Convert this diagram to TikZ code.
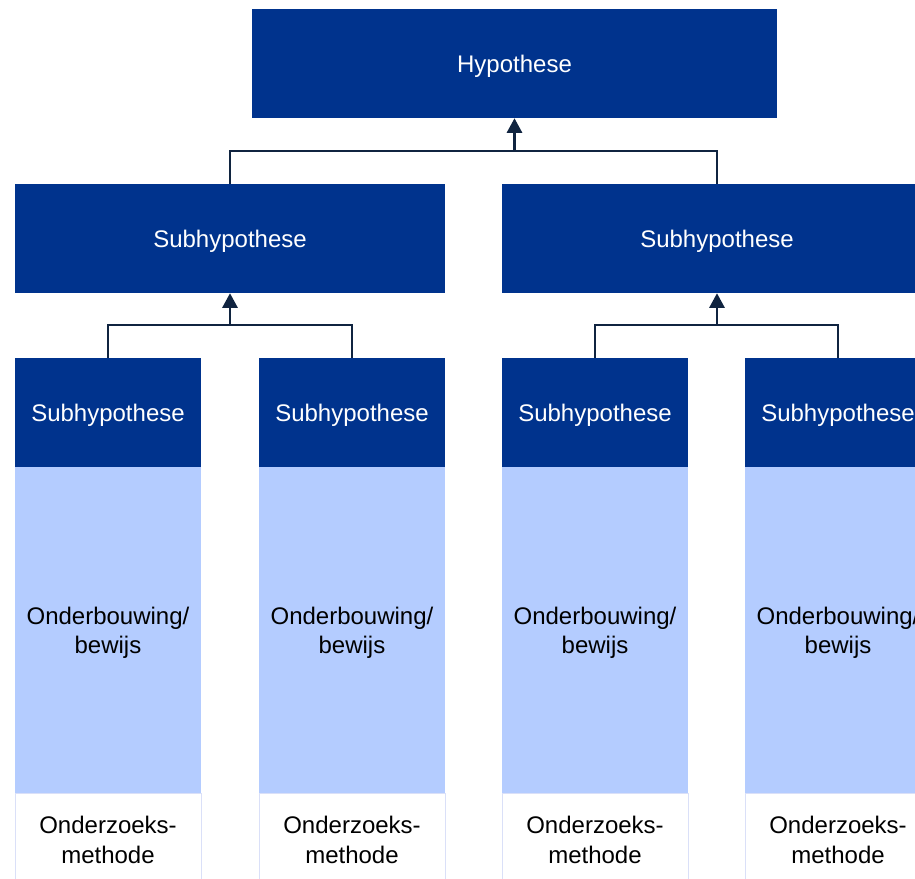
\documentclass[tikz,border=0pt]{standalone}
\usepackage{fontspec}
\setmainfont{Liberation Sans}
\usetikzlibrary{arrows.meta}
\definecolor{hypblue}{RGB}{0,51,141}
\definecolor{lightblue}{RGB}{180,204,255}
\definecolor{linkcol}{RGB}{16,36,64}
\definecolor{rimcol}{RGB}{218,224,248}
\tikzstyle{dark box}=[fill=hypblue, text=white, inner sep=0pt, align=center,
  text depth=-1pt, font=\fontsize{18}{22}\selectfont]
\tikzstyle{proof box}=[fill=lightblue, text=black, inner sep=0pt, align=center,
  text depth=-1pt, minimum width=139.5pt, minimum height=244.5pt, font=\fontsize{18}{22}\selectfont]
\tikzstyle{method box}=[fill=white, draw=rimcol, line width=.6pt, text=black, inner sep=0pt,
  align=center, minimum width=139.5pt, minimum height=70.5pt, font=\fontsize{18}{22}\selectfont]
\tikzstyle{link}=[draw=linkcol, line width=1.6pt]

\begin{document}
\begin{tikzpicture}[x=.75pt,y=-.75pt,>={Triangle[length=11pt,width=11.5pt]}]
    \clip (0,0) rectangle (915,879);

    % Top
    \node[dark box, minimum width=393.75pt, minimum height=81.75pt] (hyp) at (514.5,63.5) {Hypothese};

    % Sub level
    \node[dark box, minimum width=322.5pt, minimum height=81.75pt] (subl) at (230,238.5) {Subhypothese};
    \node[dark box, minimum width=322.5pt, minimum height=81.75pt] (subr) at (717,238.5) {Subhypothese};

    % Columns
    \foreach \name/\xpos in {a/108,b/352,c/595,d/838}{
      \node[dark box, minimum width=139.5pt, minimum height=81.75pt] (sub\name) at (\xpos,412.5) {Subhypothese};
      \node[proof box] (proof\name) at (\xpos,630) {Onderbouwing/\\bewijs};
      \node[method box] (meth\name) at (\xpos,840) {Onderzoeks-\\methode};
    }

    % Links
    \coordinate (jtop) at (514.5,151);
    \coordinate (jl) at (230,325);
    \coordinate (jr) at (717,325);
    \draw[link] (subl.north) |- (jtop) -| (subr.north);
    \draw[link,->] (jtop) -- (hyp.south);
    \draw[link] (suba.north) |- (jl) -| (subb.north);
    \draw[link,->] (jl) -- (subl.south);
    \draw[link] (subc.north) |- (jr) -| (subd.north);
    \draw[link,->] (jr) -- (subr.south);

\end{tikzpicture}
\end{document}
